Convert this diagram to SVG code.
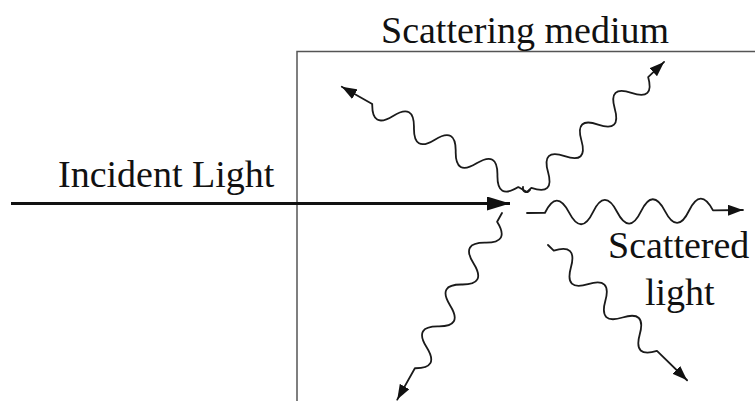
<svg xmlns="http://www.w3.org/2000/svg" width="755" height="401" viewBox="0 0 755 401">
<style>
text{font-family:"Liberation Serif","Times New Roman",Times,serif;font-size:38px;fill:#111}
.wave{fill:none;stroke:#1a1a1a;stroke-width:1.8;stroke-linecap:round;stroke-linejoin:round;marker-end:url(#ah)}
.box{fill:none;stroke:#555;stroke-width:1.5}
</style>
<defs>
<marker id="ah" markerUnits="userSpaceOnUse" markerWidth="15" markerHeight="11" refX="15" refY="5.5" orient="auto"><path d="M0,0 L15,5.5 L0,11 z" fill="#111"/></marker>
<marker id="big" markerUnits="userSpaceOnUse" markerWidth="23" markerHeight="14" refX="23" refY="7" orient="auto"><path d="M0,0 L23,7 L0,14 z" fill="#111"/></marker>
</defs>
<g id="medium"><path class="box" d="M297,401 V51.5 H755"/><text x="381" y="43" font-family="Liberation Serif, serif">Scattering medium</text></g>
<g id="incident"><text x="58" y="187" font-family="Liberation Serif, serif">Incident Light</text></g>
<g id="scattered"><text x="608" y="258" font-family="Liberation Serif, serif">Scattered</text><text x="645" y="305" font-family="Liberation Serif, serif">light</text></g>
<g id="connectors">
<path d="M11,203.5 H510" fill="none" stroke="#111" stroke-width="3" marker-end="url(#big)"/>
<path class="wave" transform="translate(527,192) rotate(-150.4)" d="M0,0 h10 q12,-22 24,0 t24,0 t24,0 t24,0 t24,0 t24,0 t24,0 h35"/>
<path class="wave" transform="translate(527,192) rotate(-43.5)" d="M0,0 h6 q11.5,22 23,0 t23,0 t23,0 t23,0 t23,0 t23,0 t23,0 h22"/>
<path class="wave" transform="translate(527,213) rotate(-0.8)" d="M0,0 h18 q12,-24 24,0 t24,0 t24,0 t24,0 t24,0 t24,0 t24,0 h30"/>
<path class="wave" transform="translate(502,213) rotate(119.3)" d="M0,0 h10 q12,-22 24,0 t24,0 t24,0 t24,0 t24,0 t24,0 t24,0 h36"/>
<path class="wave" transform="translate(548,245) rotate(44.2)" d="M0,0 h8 q12,-22 24,0 t24,0 t24,0 t24,0 t24,0 t24,0 h42"/>
<path d="M523,187 c-1,5 4,7 7,3" fill="none" stroke="#1a1a1a" stroke-width="1.8" stroke-linecap="round"/>
</g>
</svg>
